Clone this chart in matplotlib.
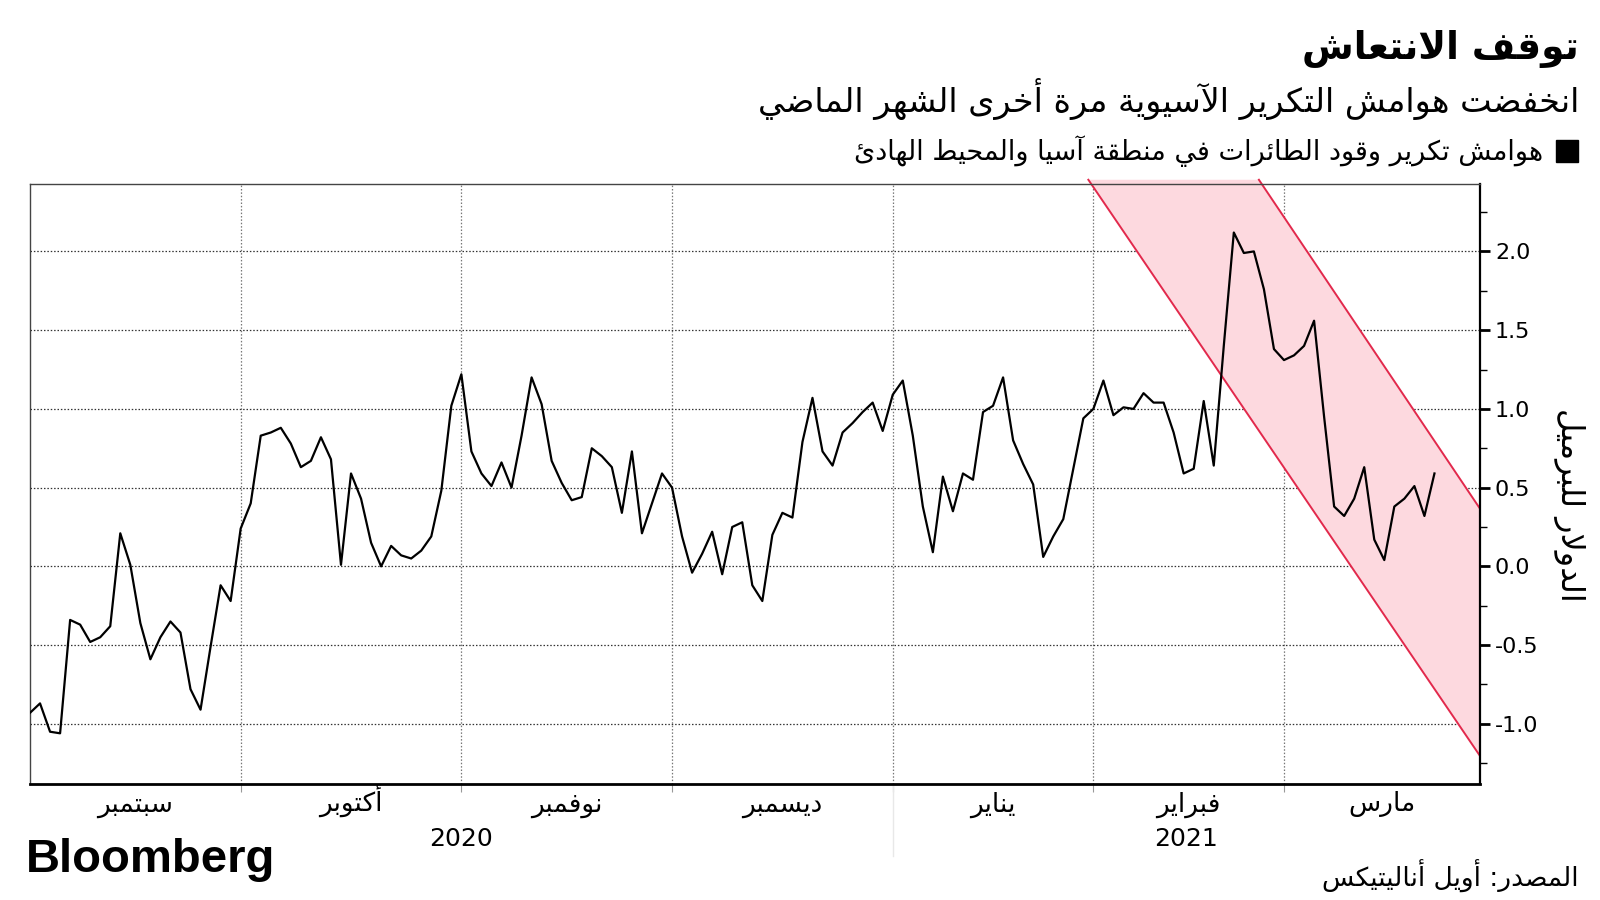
import numpy as np
import matplotlib.pyplot as plt
import matplotlib.transforms as mtransforms
from matplotlib.patches import Rectangle
from matplotlib.ticker import MultipleLocator

# daily jet fuel refining margins, Asia-Pacific (one value per trading day)
margins = [-0.93, -0.87, -1.05, -1.06, -0.34, -0.37, -0.48, -0.45, -0.38, 0.21,
           0.01, -0.36, -0.59, -0.45, -0.35, -0.42, -0.78, -0.91, -0.51, -0.12,
           -0.22, 0.24, 0.40, 0.83, 0.85, 0.88, 0.78, 0.63, 0.67, 0.82,
           0.68, 0.01, 0.59, 0.43, 0.15, 0.00, 0.13, 0.07, 0.05, 0.10,
           0.19, 0.48, 1.02, 1.22, 0.73, 0.59, 0.51, 0.66, 0.50, 0.83,
           1.20, 1.03, 0.67, 0.53, 0.42, 0.44, 0.75, 0.70, 0.63,
           0.34, 0.73, 0.21, 0.40, 0.59, 0.50, 0.19, -0.04, 0.08, 0.22,
           -0.05, 0.25, 0.28, -0.12, -0.22, 0.20, 0.34, 0.31, 0.79, 1.07,
           0.73, 0.64, 0.85, 0.91, 0.98, 1.04, 0.86, 1.09, 1.18,
           0.83, 0.38, 0.09, 0.57, 0.35, 0.59, 0.55, 0.98, 1.02, 1.20,
           0.80, 0.65, 0.52, 0.06, 0.19, 0.30, 0.62, 0.94, 1.00, 1.18,
           0.96, 1.01, 1.00, 1.10, 1.04, 1.04, 0.85, 0.59,
           0.62, 1.05, 0.64, 1.40, 2.12, 1.99, 2.00, 1.76, 1.38, 1.31,
           1.34, 1.40, 1.56, 0.95, 0.38, 0.32, 0.43, 0.63, 0.17, 0.04,
           0.38, 0.43, 0.51, 0.32, 0.59]

# trading-day index where each month starts (Oct .. Mar)
month_starts = [21, 43, 64, 86, 106, 125]
month_names = ['سبتمبر', 'أكتوبر', 'نوفمبر', 'ديسمبر', 'يناير', 'فبراير', 'مارس']
years = ['2020', '2021']
year_bounds = [0, 86]
x_end = 144.5

# downward channel drawn on the chart
chan_lower_x = [105.5, 144.5]
chan_lower_y = [2.455, -1.20]
chan_upper_x = [122.5, 144.5]
chan_upper_y = [2.455, 0.37]

title = 'توقف الانتعاش'
subtitle = 'انخفضت هوامش التكرير الآسيوية مرة أخرى الشهر الماضي'
legend_label = 'هوامش تكرير وقود الطائرات في منطقة آسيا والمحيط الهادئ'
ylabel = 'الدولار للبرميل'
source = 'المصدر: أويل أناليتيكس'

# matplotlib has no arabic shaping, so map letters to presentation forms
_seq = [('ء', 1), ('آ', 2), ('أ', 2), ('ؤ', 2), ('إ', 2), ('ئ', 4), ('ا', 2),
        ('ب', 4), ('ة', 2), ('ت', 4), ('ث', 4), ('ج', 4), ('ح', 4), ('خ', 4),
        ('د', 2), ('ذ', 2), ('ر', 2), ('ز', 2), ('س', 4), ('ش', 4), ('ص', 4),
        ('ض', 4), ('ط', 4), ('ظ', 4), ('ع', 4), ('غ', 4), ('ف', 4), ('ق', 4),
        ('ك', 4), ('ل', 4), ('م', 4), ('ن', 4), ('ه', 4), ('و', 2), ('ى', 2),
        ('ي', 4)]
FORMS = {}
_code = 0xFE80
for _ch, _n in _seq:
    FORMS[_ch] = [chr(_code + k) for k in range(_n)]
    _code += _n
LAM_ALEF = {'آ': 0xFEF5, 'أ': 0xFEF7, 'إ': 0xFEF9, 'ا': 0xFEFB}


def ar(text):
    toks = []
    i = 0
    while i < len(text):
        c = text[i]
        if c == 'ل' and text[i+1:i+2] in LAM_ALEF:
            base = LAM_ALEF[text[i+1]]
            toks.append([chr(base), chr(base + 1)])
            i += 2
            continue
        toks.append(FORMS.get(c, c))
        i += 1
    out = []
    for k, t in enumerate(toks):
        if isinstance(t, str) or len(t) == 1:
            out.append(t if isinstance(t, str) else t[0])
            continue
        prev = toks[k-1] if k > 0 else None
        nxt = toks[k+1] if k + 1 < len(toks) else None
        jp = isinstance(prev, list) and len(prev) == 4
        jn = len(t) == 4 and isinstance(nxt, list) and len(nxt) > 1
        if jp and jn:
            out.append(t[3])
        elif jp:
            out.append(t[1])
        elif jn:
            out.append(t[2])
        else:
            out.append(t[0])
    return ''.join(reversed(out))


plt.rcParams['font.family'] = ['DejaVu Sans']

W, H = 1600, 900
fig = plt.figure(figsize=(16, 9), dpi=100)
ax = fig.add_axes([30/W, 1 - 783.7/H, 1449.6/W, 600/H])

x = np.arange(len(margins))

ax.fill(chan_lower_x[:1] + chan_upper_x + chan_lower_x[1:],
        chan_lower_y[:1] + chan_upper_y + chan_lower_y[1:],
        color='#fdd9df', lw=0, clip_on=False, zorder=1)
ax.plot(chan_lower_x, chan_lower_y, color='#e2294c', lw=1.4, clip_on=False, zorder=2)
ax.plot(chan_upper_x, chan_upper_y, color='#e2294c', lw=1.4, clip_on=False, zorder=2)

ax.plot(x, margins, color='black', lw=1.6, zorder=3)

ax.set_xlim(0, x_end)
ax.set_ylim(-1.38, 2.43)

# y axis on the right
ax.yaxis.tick_right()
ax.set_yticks([-1.0, -0.5, 0.0, 0.5, 1.0, 1.5, 2.0])
ax.yaxis.set_major_formatter(plt.FormatStrFormatter('%.1f'))
ax.yaxis.set_minor_locator(MultipleLocator(0.25))
ax.tick_params(axis='y', which='major', length=7, width=2, labelsize=16, pad=4)
ax.tick_params(axis='y', which='minor', length=5, width=1)

# x axis: ticks at month starts, month names centred in each month
bounds = [0] + month_starts + [x_end]
centers = [(bounds[i] + bounds[i+1]) / 2 for i in range(len(month_names))]
ax.set_xticks(month_starts)
ax.set_xticklabels([])
ax.tick_params(axis='x', which='major', length=6, color='#999999', width=0.8)

trans = mtransforms.blended_transform_factory(ax.transData, ax.transAxes)
for c, m in zip(centers, month_names):
    ax.text(c, -0.046, ar(m), transform=trans, ha='center', va='baseline',
            fontsize=19)

ax.yaxis.grid(True, linestyle=(0, (1.2, 1.5)), color='#333333', lw=0.9)
ax.xaxis.grid(True, linestyle=(0, (1.2, 1.5)), color='#777777', lw=0.9)
ax.set_axisbelow(True)

for side in ['left', 'top']:
    ax.spines[side].set_color('#444444')
    ax.spines[side].set_linewidth(1.0)
ax.spines['bottom'].set_linewidth(2.0)
ax.spines['right'].set_linewidth(1.6)

year_edges = year_bounds + [x_end]
for i, yr in enumerate(years):
    ax.text((year_edges[i] + year_edges[i+1]) / 2, -0.092, yr, transform=trans,
            ha='center', va='center', fontsize=18)
ax.plot([year_bounds[1], year_bounds[1]], [0, -0.12], transform=trans,
        color='#e8e8e8', lw=1, clip_on=False)

# titles, legend, labels
fig.text(1579/W, 1 - 49/H, ar(title), ha='right', va='center',
         fontsize=27, fontweight='bold')
fig.text(1579/W, 1 - 99/H, ar(subtitle), ha='right', va='center', fontsize=24)
fig.patches.append(Rectangle((1556/W, 1 - 162/H), 22/W, 22/H,
                             transform=fig.transFigure, color='black'))
fig.text(1543/W, 1 - 151/H, ar(legend_label), ha='right', va='center', fontsize=19.5)
fig.text(1569/W, 1 - 505/H, ar(ylabel), ha='center', va='center',
         rotation=270, fontsize=23)

fig.text(26/W, 1 - 860/H, 'Bloomberg', ha='left', va='center', fontsize=34,
         fontweight='bold', family='Liberation Sans')
fig.text(1579/W, 1 - 876/H, ar(source), ha='right', va='center', fontsize=19)

fig.savefig('out.png', dpi=100)
